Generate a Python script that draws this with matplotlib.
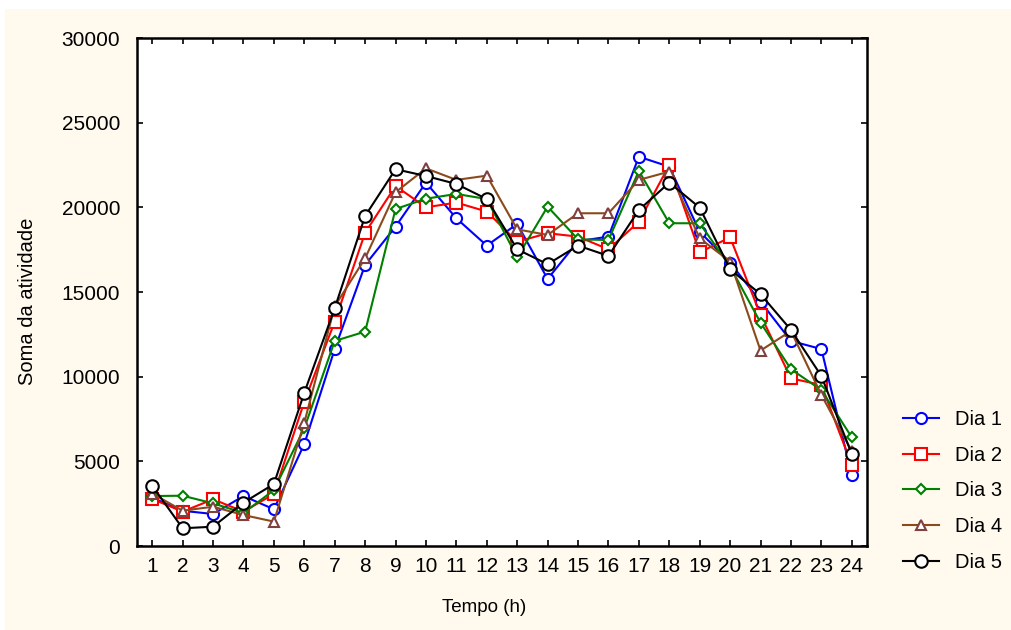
import matplotlib
matplotlib.use("Agg")
import matplotlib.pyplot as plt
from matplotlib.patches import Rectangle

plt.rcParams['font.family'] = ['Liberation Sans', 'DejaVu Sans']

hours = list(range(1, 25))

dia1 = [2850, 2080, 1890, 2950, 2170, 6020, 11630, 16600, 18860, 21460, 19350, 17740,
        19020, 15770, 18000, 18270, 22990, 22400, 18560, 16730, 14430, 12110, 11630, 4190]
dia2 = [2780, 2030, 2760, 2030, 3070, 8520, 13250, 18500, 21260, 20000, 20280, 19750,
        17970, 18470, 18270, 17520, 19150, 22500, 17340, 18230, 13640, 9900, 9510, 4780]
dia3 = [2950, 2970, 2520, 1950, 3300, 6950, 12110, 12660, 19900, 20510, 20790, 20490,
        17050, 20040, 18110, 18070, 22150, 19060, 19060, 16500, 13190, 10440, 9210, 6420]
dia4 = [3100, 2085, 2320, 1830, 1440, 7280, 14150, 16990, 20890, 22300, 21620, 21870,
        18700, 18370, 19650, 19650, 21620, 22110, 18170, 16800, 11540, 12700, 8920, 5600]
dia5 = [3560, 1045, 1140, 2560, 3660, 9050, 14040, 19490, 22250, 21850, 21380, 20490,
        17520, 16640, 17740, 17130, 19840, 21460, 19980, 16340, 14870, 12760, 10040, 5420]

labels = ["Dia 1", "Dia 2", "Dia 3", "Dia 4", "Dia 5"]
yticks = [0, 5000, 10000, 15000, 20000, 25000, 30000]

fig = plt.figure(figsize=(10.12, 6.30), dpi=100, facecolor='white')
# cream panel behind the plot area
fig.patches.append(Rectangle((5 / 1012, 0), 1 - 5 / 1012, 1 - 9 / 630,
                             transform=fig.transFigure, facecolor='#FFF9EE',
                             edgecolor='none', zorder=-10))

ax = fig.add_axes([137 / 1012, 1 - 546 / 630, (867 - 137) / 1012, (546 - 38) / 630])
ax.set_facecolor('white')

styles = [
    dict(color='#0000FF', marker='o', ms=8, mfc='white', mec='#0000FF'),
    dict(color='#FF0000', marker='s', ms=8, mfc='white', mec='#FF0000'),
    dict(color='#008000', marker='D', ms=5, mfc='white', mec='#008000'),
    dict(color='#8B4A1C', marker='^', ms=7.5, mfc='white', mec='#804040'),
    dict(color='#000000', marker='o', ms=9, mfc='white', mec='#000000'),
]
series = [dia1, dia2, dia3, dia4, dia5]
for vals, lab, st in zip(series, labels, styles):
    ax.plot(hours, vals, label=lab, lw=1.5, mew=1.5, clip_on=False, **st)

ax.set_xlim(0.5, 24.5)
ax.set_ylim(0, 30000)
ax.set_xticks(hours)
ax.set_yticks(yticks)
ax.tick_params(direction='in', length=4, width=1.2, top=True, right=True,
               labelsize=15)
ax.tick_params(axis='x', pad=8)
ax.tick_params(axis='y', pad=12)
for sp in ax.spines.values():
    sp.set_linewidth(1.8)

ax.set_xlabel("Tempo (h)", fontsize=13.5)
ax.set_ylabel("Soma da atividade", fontsize=14.5)
ax.xaxis.set_label_coords((484 - 137) / 730, -(607 - 546) / 508)
ax.yaxis.set_label_coords(-(137 - 28) / 730, (546 - 301) / 508)
ax.xaxis.label.set_va('center')
ax.yaxis.label.set_va('center')

ax.legend(loc='center left', bbox_to_anchor=(885 / 1012, 1 - 491 / 630),
          bbox_transform=fig.transFigure, frameon=False, fontsize=14.5,
          handlelength=1.8, handletextpad=0.8, labelspacing=0.83)

fig.savefig("out.png", dpi=100, facecolor=fig.get_facecolor())
